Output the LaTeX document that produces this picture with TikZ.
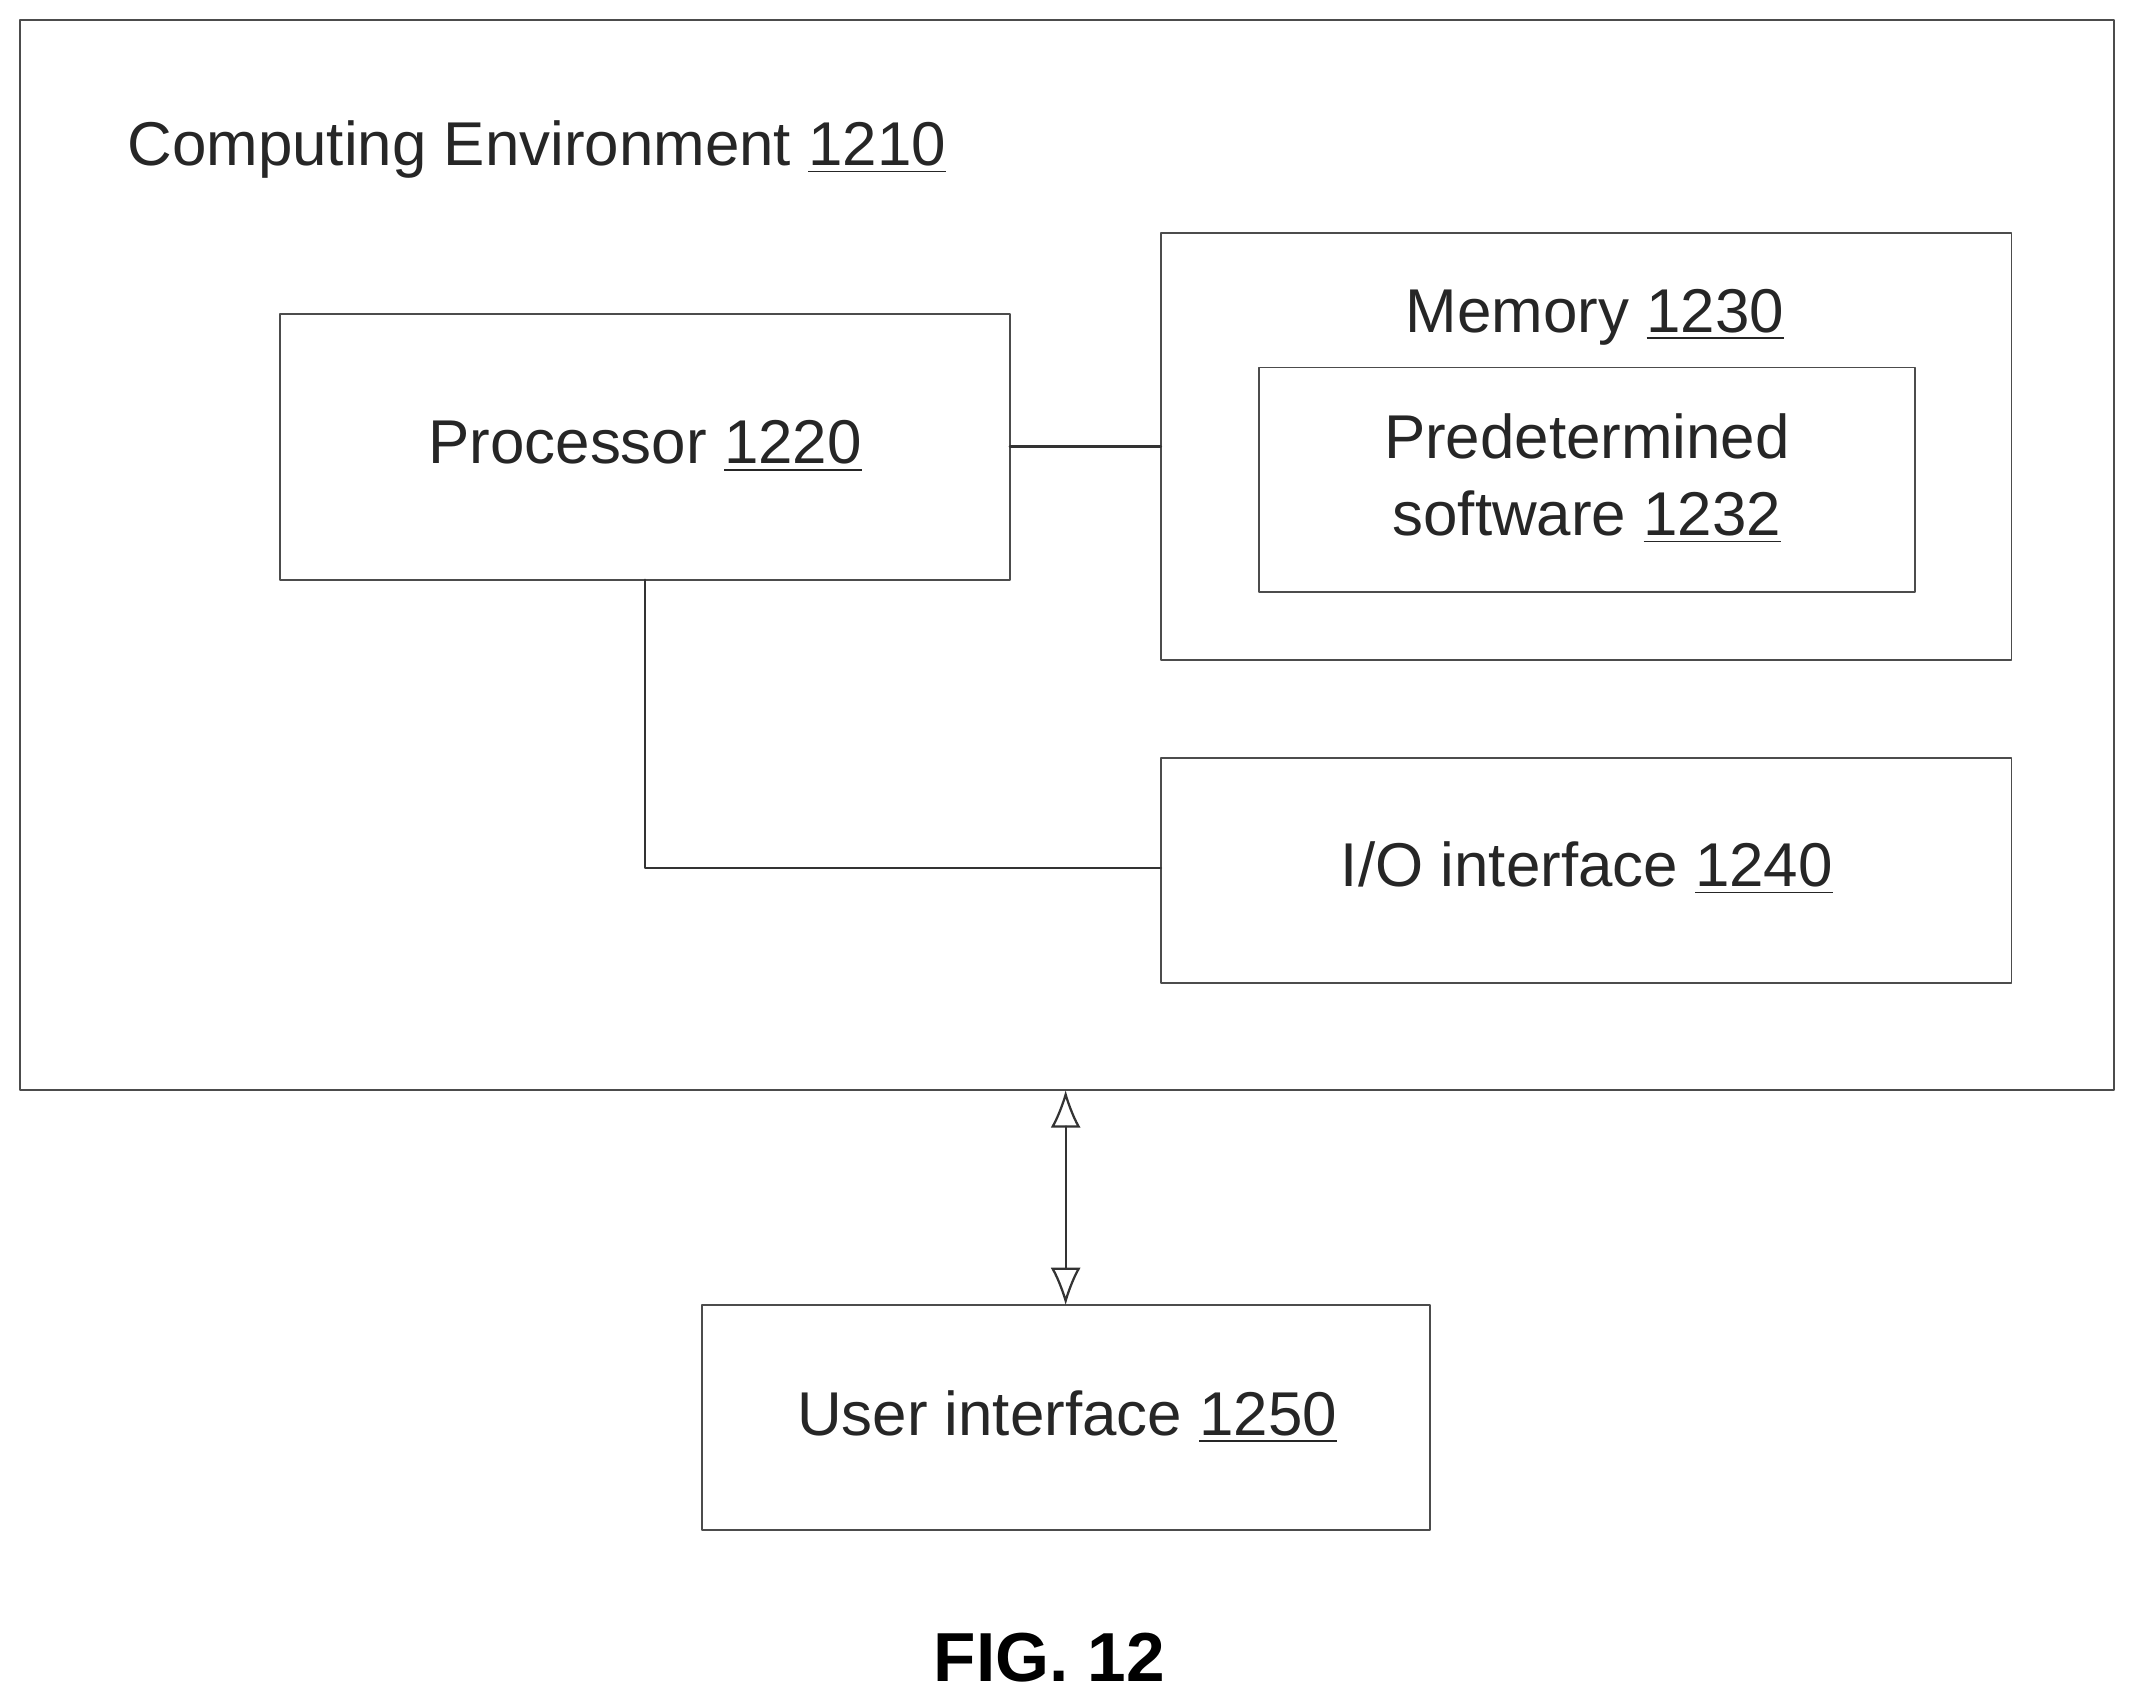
\documentclass[tikz,border=0pt]{standalone}
\usepackage{fontspec}
\setmainfont{Liberation Sans}
\usetikzlibrary{arrows.meta}
\tikzset{
  blk/.style={draw=black!70,line width=0.5pt},
  lbl/.style={font=\fontsize{16.5}{20.5}\selectfont,align=center,text=black!85},
  wire/.style={draw=black!80,line width=0.6pt}
}
\begin{document}
\begin{tikzpicture}[line cap=round,line join=round,x=0.012755cm,y=-0.012755cm]
\useasboundingbox (0,0) rectangle (1568,1254);
% boxes
\draw[blk] (15,15) rectangle (1553,801);
\node[lbl,anchor=west] (env) at (84,110) {Computing Environment \underline{1210}};
\draw[blk] (206,231) rectangle (742,426);
\node[lbl] (proc) at (474,328) {Processor \underline{1220}};
\coordinate (procR) at (742,328);
\coordinate (procB) at (474,426);
\draw[blk] (853,171) rectangle (1478,485);
\node[lbl] (mem) at (1172,233) {Memory \underline{1230}};
\coordinate (memL) at (853,328);
\draw[blk] (925,270) rectangle (1407,435);
\node[lbl] (soft) at (1166,352) {Predetermined\\software \underline{1232}};
\draw[blk] (853,557) rectangle (1478,722);
\node[lbl] (io) at (1166,638) {I/O interface \underline{1240}};
\coordinate (ioL) at (853,638);
\draw[blk] (516,959) rectangle (1051,1124);
\node[lbl] (ui) at (784,1041) {User interface \underline{1250}};
\coordinate (envB) at (783,801);
\coordinate (uiT) at (783,959);
% connectors
\draw[wire] (procR) -- (memL);
\draw[wire] (procB) |- (ioL);
\draw[wire,{Latex[length=10pt,width=8pt,open]}-{Latex[length=10pt,width=8pt,open]}] (envB) -- (uiT);
\node[font=\fontsize{18.5}{22}\selectfont\bfseries] (fig) at (771,1218) {FIG. 12};
\end{tikzpicture}
\end{document}
